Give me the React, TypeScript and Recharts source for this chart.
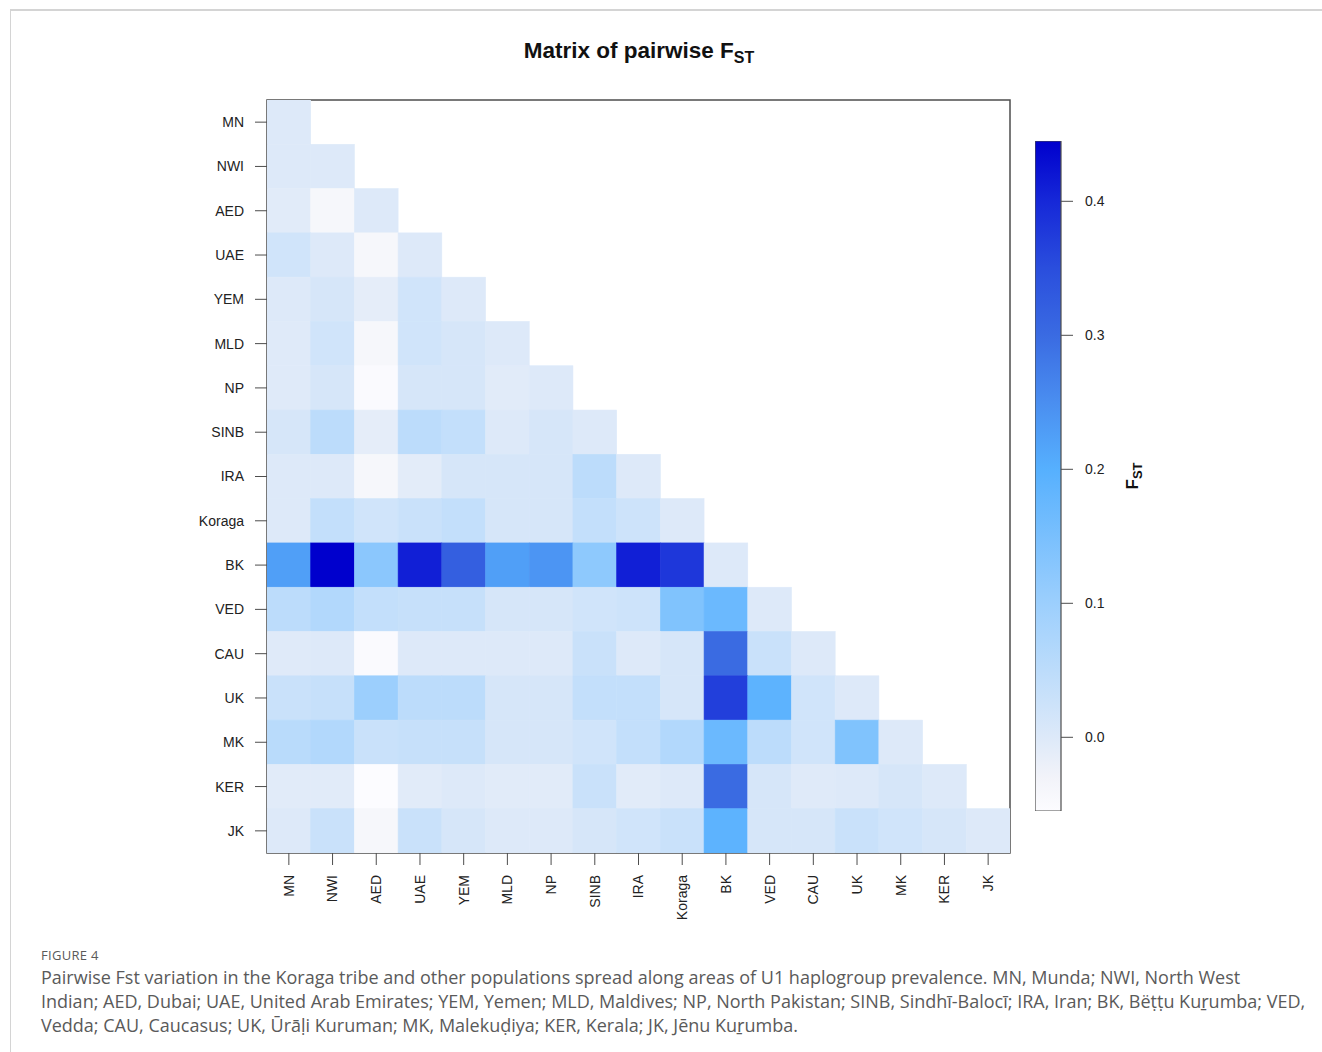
import React from "react";
import {
  ScatterChart,
  Scatter,
  XAxis,
  YAxis,
  ReferenceArea,
  BarChart,
  Bar,
} from "recharts";

// ---------- data ----------

const populations = [
  "MN", "NWI", "AED", "UAE", "YEM", "MLD", "NP", "SINB", "IRA",
  "Koraga", "BK", "VED", "CAU", "UK", "MK", "KER", "JK",
];

// lower triangle of pairwise Fst, one row per population (diagonal = 0)
const fstMN = [0.0];
const fstNWI = [0.0, 0.0];
const fstAED = [-0.005, -0.04, 0.0];
const fstUAE = [0.02, 0.0, -0.04, 0.0];
const fstYEM = [0.0, 0.01, -0.012, 0.02, 0.0];
const fstMLD = [-0.003, 0.02, -0.04, 0.02, 0.01, 0.0];
const fstNP = [-0.003, 0.01, -0.05, 0.01, 0.01, -0.005, 0.0];
const fstSINB = [0.01, 0.05, -0.012, 0.05, 0.04, 0.0, 0.01, 0.0];
const fstIRA = [0.0, 0.0, -0.04, -0.008, 0.01, 0.01, 0.01, 0.05, 0.0];
const fstKoraga = [0.0, 0.04, 0.02, 0.03, 0.04, 0.01, 0.01, 0.04, 0.025, 0.0];
const fstBK = [0.225, 0.445, 0.125, 0.41, 0.32, 0.225, 0.24, 0.12, 0.41, 0.38, 0.0];
const fstVED = [0.05, 0.065, 0.04, 0.035, 0.035, 0.01, 0.01, 0.02, 0.025, 0.14, 0.17, 0.0];
const fstCAU = [-0.003, 0.0, -0.05, 0.0, 0.0, 0.0, 0.0, 0.03, 0.0, 0.01, 0.3, 0.03, 0.0];
const fstUK = [0.03, 0.035, 0.1, 0.05, 0.05, 0.01, 0.01, 0.04, 0.04, 0.01, 0.37, 0.19, 0.02, 0.0];
const fstMK = [0.055, 0.065, 0.03, 0.035, 0.035, 0.01, 0.01, 0.02, 0.04, 0.065, 0.17, 0.05, 0.02, 0.14, 0.0];
const fstKER = [-0.006, -0.006, -0.055, -0.006, 0.0, -0.005, -0.005, 0.03, -0.006, 0.0, 0.3, 0.01, -0.003, 0.0, 0.01, 0.0];
const fstJK = [0.0, 0.03, -0.04, 0.03, 0.01, 0.0, 0.0, 0.01, 0.02, 0.03, 0.19, 0.01, 0.01, 0.03, 0.02, 0.01, 0.0];

const fstRows = [
  fstMN, fstNWI, fstAED, fstUAE, fstYEM, fstMLD, fstNP, fstSINB, fstIRA,
  fstKoraga, fstBK, fstVED, fstCAU, fstUK, fstMK, fstKER, fstJK,
];

const colorbarTicks = [0, 0.1, 0.2, 0.3, 0.4];
const FST_MIN = -0.055;
const FST_MAX = 0.445;

// colour ramp (value, colour)
const rampValues = [-0.055, -0.03, 0.0, 0.05, 0.1, 0.2, 0.25, 0.3, 0.35, 0.4, 0.445];
const rampColors = [
  "#fcfcff", "#f2f3f9", "#dde9f9", "#bcdcfb", "#9ccffd", "#56b0fe",
  "#4a8ef0", "#3a6be2", "#2a4edd", "#1628d8", "#0000cd",
];

// ---------- layout ----------

const PLOT_LEFT = 267;
const PLOT_TOP = 100;
const PLOT_RIGHT = 1010;
const PLOT_BOTTOM = 853;
const N = populations.length;
const CELL_W = (PLOT_RIGHT - PLOT_LEFT) / N;
const CELL_H = (PLOT_BOTTOM - PLOT_TOP) / N;
const Y_AXIS_W = 60;
const X_AXIS_H = 70;

const AXIS_FONT = "'Liberation Sans', Arial, sans-serif";
const FRAME = "#4d4d4d";

function hexToRgb(h: string) {
  const n = parseInt(h.slice(1), 16);
  return [(n >> 16) & 255, (n >> 8) & 255, n & 255];
}

function fstColor(v: number) {
  if (v <= rampValues[0]) return rampColors[0];
  for (let i = 1; i < rampValues.length; i++) {
    if (v <= rampValues[i]) {
      const t = (v - rampValues[i - 1]) / (rampValues[i] - rampValues[i - 1]);
      const a = hexToRgb(rampColors[i - 1]);
      const b = hexToRgb(rampColors[i]);
      const c = a.map((x, k) => Math.round(x + (b[k] - x) * t));
      return `rgb(${c[0]},${c[1]},${c[2]})`;
    }
  }
  return rampColors[rampColors.length - 1];
}

const cells = fstRows.flatMap((row, r) =>
  row.map((v, c) => ({ x: c, y: r, v }))
);

const indexTicks = populations.map((_, i) => i);

const CellShape = (props: any) => {
  const { cx, cy, payload } = props;
  const fill = fstColor(payload.v);
  return (
    <rect
      x={cx - CELL_W / 2}
      y={cy - CELL_H / 2}
      width={CELL_W}
      height={CELL_H}
      fill={fill}
      stroke={fill}
      strokeWidth={0.6}
    />
  );
};

const RotatedTick = (props: any) => {
  const { x, y, payload } = props;
  return (
    <g transform={`translate(${x},${y})`}>
      <text
        transform="rotate(-90)"
        textAnchor="end"
        dy="0.35em"
        fill="#222"
        fontSize={14}
        fontFamily={AXIS_FONT}
      >
        {populations[payload.value]}
      </text>
    </g>
  );
};

const fstLabel = (props: any) => {
  const { viewBox } = props;
  const x = viewBox.x + 71;
  const y = viewBox.y + viewBox.height / 2;
  return (
    <text
      transform={`translate(${x},${y}) rotate(-90)`}
      textAnchor="middle"
      dy="0.35em"
      fontFamily={AXIS_FONT}
      fontWeight="bold"
      fontSize={17}
      fill="#111"
    >
      F<tspan fontSize={13} dy="4">ST</tspan>
    </text>
  );
};

export default function App() {
  const colorbarData = [{ k: "fst", range: [FST_MIN, FST_MAX] }];

  return (
    <div
      style={{
        position: "absolute",
        left: 0,
        top: 0,
        width: 1322,
        height: 1052,
        background: "#fff",
        overflow: "hidden",
      }}
    >
      <div
        style={{
          position: "absolute",
          left: 10,
          top: 9,
          width: 1320,
          height: 1050,
          borderTop: "2px solid #d4d4d4",
          borderLeft: "1px solid #d4d4d4",
        }}
      />

      <div
        style={{
          position: "absolute",
          left: 0,
          top: 38,
          width: 1278,
          textAlign: "center",
          fontFamily: AXIS_FONT,
          fontWeight: "bold",
          fontSize: 22.5,
          color: "#111",
        }}
      >
        Matrix of pairwise F
        <sub style={{ fontSize: 16, verticalAlign: "-5px" }}>ST</sub>
      </div>

      <div style={{ position: "absolute", left: 0, top: 0 }}>
        <ScatterChart
          width={1322}
          height={1052}
          margin={{
            top: PLOT_TOP,
            left: PLOT_LEFT - Y_AXIS_W,
            right: 1322 - PLOT_RIGHT,
            bottom: 1052 - PLOT_BOTTOM - X_AXIS_H,
          }}
        >
          <XAxis
            type="number"
            dataKey="x"
            domain={[-0.5, N - 0.5]}
            ticks={indexTicks}
            interval={0}
            allowDataOverflow
            height={X_AXIS_H}
            axisLine={false}
            tickLine={{ stroke: FRAME }}
            tickSize={12}
            tickMargin={10}
            tick={<RotatedTick />}
          />
          <YAxis
            type="number"
            dataKey="y"
            domain={[-0.5, N - 0.5]}
            reversed
            ticks={indexTicks}
            interval={0}
            allowDataOverflow
            width={Y_AXIS_W}
            axisLine={false}
            tickLine={{ stroke: FRAME }}
            tickSize={12}
            tickMargin={11}
            tickFormatter={(i: number) => populations[i]}
            tick={{ fill: "#222", fontSize: 14, fontFamily: AXIS_FONT }}
          />
          <Scatter
            data={cells}
            shape={<CellShape />}
            isAnimationActive={false}
          />
          <ReferenceArea
            x1={-0.5}
            x2={N - 0.5}
            y1={-0.5}
            y2={N - 0.5}
            fill="none"
            fillOpacity={0}
            stroke={FRAME}
            strokeWidth={1.5}
          />
        </ScatterChart>
      </div>

      <div style={{ position: "absolute", left: 1035, top: 141 }}>
        <BarChart
          width={130}
          height={670}
          data={colorbarData}
          margin={{ top: 0, right: 24, left: 0, bottom: 0 }}
          barCategoryGap={0}
        >
          <defs>
            <linearGradient id="fstGrad" x1="0" y1="1" x2="0" y2="0">
              {rampValues.map((v, i) => (
                <stop
                  key={v}
                  offset={(v - FST_MIN) / (FST_MAX - FST_MIN)}
                  stopColor={rampColors[i]}
                />
              ))}
            </linearGradient>
          </defs>
          <XAxis dataKey="k" hide />
          <YAxis
            orientation="right"
            type="number"
            domain={[FST_MIN, FST_MAX]}
            ticks={colorbarTicks}
            allowDataOverflow
            width={80}
            axisLine={false}
            tickLine={{ stroke: FRAME }}
            tickSize={12}
            tickMargin={12}
            tickFormatter={(v: number) => v.toFixed(1)}
            tick={{ fill: "#222", fontSize: 14, fontFamily: AXIS_FONT }}
            label={fstLabel}
          />
          <Bar
            dataKey="range"
            fill="url(#fstGrad)"
            stroke={FRAME}
            strokeWidth={1.2}
            isAnimationActive={false}
          />
        </BarChart>
      </div>

      <div
        style={{
          position: "absolute",
          left: 41,
          top: 945,
          fontFamily: "'Open Sans', 'Noto Sans', sans-serif",
          color: "#5a5a5a",
          whiteSpace: "nowrap",
        }}
      >
        <div style={{ fontSize: 13, lineHeight: "20px", letterSpacing: 0.3 }}>
          FIGURE 4
        </div>
        <div style={{ fontSize: 18, lineHeight: "24px" }}>
          Pairwise Fst variation in the Koraga tribe and other populations spread
          along areas of U1 haplogroup prevalence. MN, Munda; NWI, North West
          <br />
          Indian; AED, Dubai; UAE, United Arab Emirates; YEM, Yemen; MLD, Maldives;
          NP, North Pakistan; SINB, Sindhī-Balocī; IRA, Iran; BK, Bëṭṭu Kuṟumba; VED,
          <br />
          Vedda; CAU, Caucasus; UK, Ūrāḷi Kuruman; MK, Malekuḍiya; KER, Kerala; JK,
          Jēnu Kuṟumba.
        </div>
      </div>
    </div>
  );
}
